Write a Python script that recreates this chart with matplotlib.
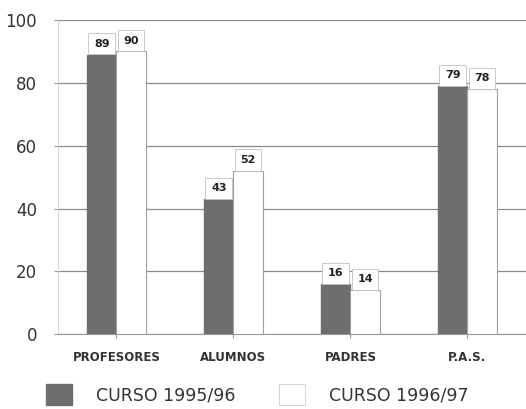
import numpy as np
import matplotlib
matplotlib.use('Agg')
from matplotlib import pyplot as plt
from matplotlib.patches import Patch

# data
categories = ['PROFESORES', 'ALUMNOS', 'PADRES', 'P.A.S.']
curso_9596 = [89, 43, 16, 79]
curso_9697 = [90, 52, 14, 78]
series_names = ['CURSO 1995/96', 'CURSO 1996/97']
yticks = [0, 20, 40, 60, 80, 100]

dark = '#6e6e6e'
edge = '#a0a0a0'

fig = plt.figure(figsize=(5.26, 4.09), dpi=100, facecolor='w')
ax = fig.add_axes([0.110, 0.183, 0.89, 0.768])

x = np.arange(len(categories))
w = 0.25
b1 = ax.bar(x - w/2, curso_9596, w, color=dark, edgecolor=dark, zorder=3)
b2 = ax.bar(x + w/2, curso_9697, w, color='white', edgecolor=edge, linewidth=0.8, zorder=3)

# value boxes sitting on top of each bar
for bars, vals in ((b1, curso_9596), (b2, curso_9697)):
    for r, v in zip(bars, vals):
        ax.annotate(str(v), (r.get_x() + r.get_width()/2, v), xytext=(0, 4.2),
                    textcoords='offset points', ha='center', va='bottom',
                    fontsize=8, fontweight='bold', color='#222222', zorder=4,
                    bbox=dict(boxstyle='square,pad=0.5', fc='white', ec='#c0c0c0', lw=0.6))

ax.set_xlim(-0.5, 3.5)
ax.set_ylim(0, 100)
ax.set_yticks(yticks)
ax.set_yticklabels([str(t) for t in yticks], fontsize=12, color='#333333')
ax.set_xticks(x)
ax.set_xticklabels(categories, fontsize=8.5, fontweight='bold', color='#333333')
ax.tick_params(axis='x', length=3, color='#999999', pad=9)
ax.tick_params(axis='y', length=6, direction='inout', color='#999999', pad=12)
ax.yaxis.grid(True, color='#8a8a8a', linewidth=0.9, zorder=0)
ax.set_axisbelow(True)
for s in ['top', 'right']:
    ax.spines[s].set_visible(False)
ax.spines['left'].set_color('#cccccc')
ax.spines['left'].set_linewidth(0.6)
ax.spines['bottom'].set_color('#999999')
ax.spines['bottom'].set_linewidth(0.8)

handles = [Patch(facecolor=dark, edgecolor=dark),
           Patch(facecolor='white', edgecolor='#cccccc', linewidth=0.6)]
fig.legend(handles, series_names, loc='center', bbox_to_anchor=(0.489, 0.035), ncol=2,
           frameon=False, fontsize=12.5, handlelength=1.5, handleheight=1.5,
           handletextpad=1.4, columnspacing=2.5, labelcolor='#333333')

fig.savefig('out.png', dpi=100)
